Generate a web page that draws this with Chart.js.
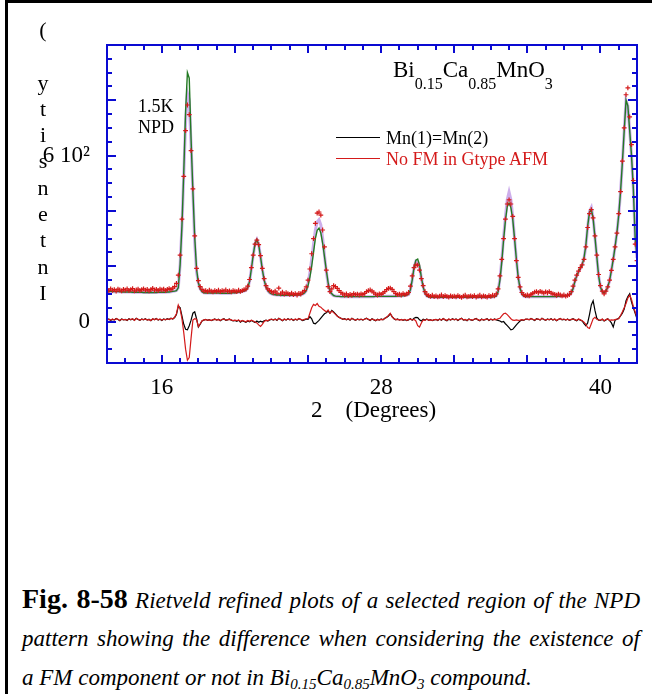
<!DOCTYPE html>
<html>
<head>
<meta charset="utf-8">
<title>Bi0.15Ca0.85MnO3 NPD Rietveld</title>
<script src="https://cdn.jsdelivr.net/npm/chart.js@4.4.1/dist/chart.umd.min.js"></script>
<style>
  html, body { margin: 0; padding: 0; background: #fff; }
  #page { position: relative; width: 652px; height: 694px; overflow: hidden; font-family: "Liberation Serif", "Times New Roman", serif; color: #000; }
  #frame { position: absolute; left: 5px; top: 0; width: 700px; height: 760px; border-top: 3px solid #000; border-left: 3px solid #000; }
  #chart { position: absolute; left: 0; top: 0; }
  .abs { position: absolute; white-space: pre; line-height: 1; }
  #ylabel { position: absolute; left: 33px; top: 17px; width: 20px; text-align: center; font-size: 22px; line-height: 26.3px; }
  #formula { left: 393px; top: 57.5px; font-size: 23px; }
  #formula span { font-size: 16px; vertical-align: -12px; }
  .note { font-size: 18px; }
  .key { position: absolute; left: 336px; width: 44px; }
  .cap { position: absolute; left: 22px; width: 618px; font-size: 23px; font-style: italic; line-height: 30px; }
  .just { text-align: justify; text-align-last: justify; }
  .cap b { font-style: normal; font-size: 28px; }
  .cap sub { font-size: 15px; vertical-align: -4px; line-height: 0; }
</style>
</head>
<body>
<div id="page">
  <div id="frame"></div>
  <canvas id="chart" width="652" height="430"></canvas>

  <div id="ylabel">(<br><br>y<br>t<br>i<br>s<br>n<br>e<br>t<br>n<br>I</div>

  <div class="abs" id="formula">Bi<span>0.15</span>Ca<span>0.85</span>MnO<span>3</span></div>
  <div class="abs note" style="left:138px; top:96.5px;">1.5K</div>
  <div class="abs note" style="left:138px; top:118px;">NPD</div>

  <div class="key" style="top:136.5px; border-top:1px solid #000;"></div>
  <div class="key" style="top:157.5px; border-top:1.5px solid #d41a1a;"></div>
  <div class="abs note" style="left:386px; top:129px;">Mn(1)=Mn(2)</div>
  <div class="abs note" style="left:386px; top:149.5px; color:#d41a1a;">No FM in Gtype AFM</div>

  <div class="abs" style="left:311px; top:397.5px; font-size:23px;">2    (Degrees)</div>

  <div class="cap just" style="top:584px;"><b>Fig. 8-58</b> Rietveld refined plots of a selected region of the NPD</div>
  <div class="cap just" style="top:624px;">pattern showing the difference when considering the existence of</div>
  <div class="cap" style="top:663px;">a FM component or not in Bi<sub>0.15</sub>Ca<sub>0.85</sub>MnO<sub>3</sub> compound.</div>
</div>

<script>
// 2theta grid of the pattern: 13.0 .. 42.0 deg, step 0.1
const THETA_START = 13.0;
const THETA_STEP = 0.1;

// observed counts (red crosses)
const obsCounts = [
  116,112,118,113,115,110,117,114,111,116, // 13
  113,118,112,115,119,111,114,117,112,115, // 14
  118,113,116,111,115,120,113,116,112,117, // 15
  114,117,112,116,119,115,121,126,138,168, // 16
  240,370,525,690,783,748,618,480,310,192, // 17
  148,126,116,110,112,108,113,110,107,112, // 18
  109,113,108,112,110,114,109,111,107,112, // 19
  110,108,113,109,112,115,117,128,152,195, // 20
  240,280,294,278,238,192,155,130,118,112, // 21
  108,104,110,103,121,100,106,99,104,101,  // 22
  98,103,97,101,96,102,99,106,112,125,     // 23
  150,190,245,300,355,392,396,385,331,270, // 24
  186,126,108,118,130,126,120,112,105,100, // 25
  96,100,94,98,95,101,97,99,96,100,        // 26
  97,102,108,112,114,110,104,99,96,100,    // 27
  98,103,108,115,120,121,116,108,101,97,   // 28
  99,96,101,97,100,105,128,165,195,205,    // 29
  204,186,155,130,108,98,94,91,95,90,      // 30
  93,89,92,96,90,94,91,88,93,90,           // 31
  92,89,94,90,87,92,95,89,91,93,           // 32
  90,94,88,92,95,89,93,91,88,94,           // 33
  91,95,93,100,118,165,225,300,370,425,    // 34
  440,425,380,300,220,160,125,105,97,94,   // 35
  96,93,98,102,106,108,104,109,106,103,    // 36
  107,104,108,103,100,98,95,99,96,93,      // 37
  96,92,95,97,108,128,150,168,182,195,     // 38
  205,225,270,340,390,405,375,310,240,170, // 39
  130,110,100,110,125,150,185,225,270,320, // 40
  390,470,580,700,820,845,740,640,510,280, // 41
  220
];

// calculated profile, no FM in G-type AFM (green)
const calcNoFM = [
  109,109,109,108,108,108,108,108,107,107,
  107,107,107,107,106,106,106,106,106,106,
  105,105,105,105,105,105,105,105,106,106,
  106,106,106,107,107,108,109,110,112,122,
  205,345,540,760,900,880,660,470,305,190,
  140,118,108,104,103,103,103,103,103,103,
  103,103,102,102,102,102,102,102,103,104,
  104,105,106,107,108,110,113,122,145,190,
  240,282,296,278,235,188,150,125,112,104,
  100,98,97,96,96,95,95,95,95,95,
  95,95,95,95,96,96,97,99,103,112,
  130,160,200,250,300,330,338,320,283,235,
  186,140,110,100,94,92,91,91,90,90,
  90,90,90,90,90,90,90,90,90,90,
  90,90,90,90,90,90,90,91,91,91,
  91,91,91,91,91,91,91,91,91,92,
  92,92,93,94,96,98,115,150,195,222,
  226,205,160,125,102,92,89,88,88,88,
  88,88,88,88,88,88,88,88,88,88,
  88,88,88,88,88,88,88,88,88,88,
  88,88,88,88,88,88,88,88,88,88,
  88,89,90,92,108,150,215,295,365,415,
  428,412,370,300,225,160,120,100,92,90,
  90,90,90,90,90,90,90,90,90,90,
  90,90,90,90,90,90,90,91,91,92,
  92,93,95,97,102,118,145,165,180,192,
  205,230,275,345,395,406,372,305,235,165,
  125,108,104,110,125,148,185,225,270,320,
  385,470,575,690,800,780,690,600,480,300,
  230
];

// calculated profile, Mn(1)=Mn(2) (light violet)
const calcMnEq = [
  109,109,109,108,108,108,108,108,107,107,
  107,107,107,107,106,106,106,106,106,106,
  105,105,105,105,105,105,105,105,106,106,
  106,106,106,107,107,108,109,110,112,122,
  205,345,530,720,825,800,640,470,285,180,
  140,118,108,104,103,103,103,103,103,103,
  103,103,102,102,102,102,102,102,103,104,
  104,105,106,107,108,110,113,122,145,190,
  240,282,296,278,235,188,150,125,112,104,
  100,98,97,96,96,95,95,95,95,95,
  95,95,95,95,96,96,97,99,103,112,
  140,175,225,280,330,360,368,350,300,240,
  180,135,108,99,94,92,91,91,90,90,
  90,90,90,90,90,90,90,90,90,90,
  90,90,90,90,90,90,90,91,91,91,
  91,91,91,91,91,91,91,91,91,92,
  92,92,93,94,96,98,115,150,195,218,
  215,196,158,125,102,92,89,88,88,88,
  88,88,88,88,88,88,88,88,88,88,
  88,88,88,88,88,88,88,88,88,88,
  88,88,88,88,88,88,88,88,88,88,
  88,89,90,93,110,155,222,305,378,440,
  468,440,378,302,225,160,120,100,92,90,
  90,90,90,90,90,90,90,90,90,90,
  90,90,90,90,90,90,90,91,91,92,
  92,93,95,97,102,118,145,165,180,192,
  205,228,272,342,398,412,375,305,235,165,
  125,108,104,110,125,148,185,225,270,320,
  385,470,575,690,800,780,690,600,480,300,
  230
];

// difference curve, Mn(1)=Mn(2) (black)
const diffMnEq = [
  5,9,4,8,6,11,7,3,9,6,
  8,4,10,6,9,5,12,7,4,9,
  6,10,5,8,3,9,7,11,5,8,
  4,9,6,10,7,12,9,14,25,55,
  50,20,-10,-28,-30,-15,5,30,35,10,
  -20,-10,2,5,8,4,7,3,6,9,
  5,8,3,7,10,4,6,9,5,2,
  4,1,5,-2,3,0,-3,2,-1,4,
  0,-4,2,-3,1,-2,3,5,2,6,
  8,5,9,4,12,7,3,8,5,10,
  6,9,4,8,5,11,7,3,6,9,
  8,18,10,-6,-8,-2,4,12,20,28,
  32,38,30,40,35,28,20,15,12,8,
  10,6,9,5,12,7,4,9,6,8,
  5,9,12,7,4,10,6,3,8,5,
  9,6,12,15,20,28,18,10,6,9,
  5,8,4,7,3,6,10,5,12,15,
  14,6,2,8,5,9,4,7,3,6,
  8,4,9,5,11,6,3,8,5,10,
  6,9,4,8,12,5,7,3,9,6,
  4,8,11,6,3,9,5,7,10,4,
  8,5,9,6,4,2,-2,0,-8,-15,
  -22,-30,-28,-20,-12,-5,2,6,4,8,
  9,6,11,7,4,10,8,5,12,7,
  4,9,6,10,5,8,3,7,11,6,
  8,5,9,4,7,10,6,3,8,5,
  2,-8,-15,-5,25,60,75,40,12,5,
  4,8,2,6,10,3,-5,-20,5,8,
  12,20,30,45,75,90,100,70,50,30,
  10
];

// difference curve, no FM in G-type AFM (red)
const diffNoFM = [
  6,8,5,9,5,10,8,4,8,7,
  7,5,9,7,10,4,11,8,5,8,
  7,9,6,7,4,10,6,10,6,9,
  5,8,7,9,8,11,10,16,28,60,
  45,10,-40,-100,-140,-130,-60,5,10,8,
  -18,-8,3,6,7,5,6,4,7,8,
  6,7,4,8,9,5,7,8,6,3,
  5,3,6,0,4,2,-1,4,1,5,
  2,-2,-5,-12,-18,-10,0,4,3,7,
  9,6,8,5,11,8,4,9,6,9,
  7,8,5,9,6,10,8,5,8,10,
  10,30,50,62,58,65,55,52,45,40,
  35,42,30,38,32,26,20,15,12,9,
  9,7,10,6,11,8,5,8,7,9,
  6,8,11,8,5,9,7,4,7,6,
  8,7,11,16,22,30,17,11,7,8,
  6,7,5,8,4,7,9,6,8,2,
  -15,-20,-5,6,4,8,5,6,4,7,
  7,5,8,6,10,7,4,9,6,9,
  7,8,5,9,11,6,8,4,8,7,
  5,9,10,7,4,8,6,8,9,5,
  9,6,8,7,10,12,20,28,30,25,
  18,10,5,4,6,4,5,7,5,9,
  8,7,10,8,5,9,9,6,11,8,
  5,8,7,9,6,9,4,8,10,7,
  9,6,8,5,8,9,7,4,9,6,
  3,-2,-10,-22,-25,-8,10,15,8,6,
  5,9,3,7,9,4,6,5,7,9,
  10,22,35,50,65,85,95,80,55,35,
  15
];

const xTickLabels = [16, 28, 40];
const yTickLabels = [0, 600];

const AXIS_BLUE = '#0a0ad2';
const RED = '#d41a1a';
const SERIF = '"Liberation Serif", "Times New Roman", serif';

const twoTheta = obsCounts.map((_, i) => +(THETA_START + i * THETA_STEP).toFixed(1));
const pts = arr => arr.map((v, i) => ({ x: twoTheta[i], y: v }));

// blue box with inward ticks on all four sides
const frameTicks = {
  id: 'frameTicks',
  afterDatasetsDraw(chart) {
    const { ctx, chartArea: a, scales: { x, y } } = chart;
    ctx.save();
    ctx.strokeStyle = AXIS_BLUE;
    ctx.lineWidth = 2;
    ctx.beginPath();
    for (let v = 14; v <= 41; v++) {
      const px = Math.round(x.getPixelForValue(v));
      const len = v % 4 === 0 ? 8 : 5;
      ctx.moveTo(px, a.bottom); ctx.lineTo(px, a.bottom - len);
      ctx.moveTo(px, a.top); ctx.lineTo(px, a.top + len);
    }
    for (let v = -100; v <= 950; v += 50) {
      const py = Math.round(y.getPixelForValue(v));
      const len = v % 200 === 0 ? 9 : 5;
      ctx.moveTo(a.left, py); ctx.lineTo(a.left + len, py);
      ctx.moveTo(a.right, py); ctx.lineTo(a.right - len, py);
    }
    ctx.stroke();
    ctx.strokeRect(a.left, a.top, a.right - a.left, a.bottom - a.top);
    ctx.restore();
  }
};

new Chart(document.getElementById('chart'), {
  type: 'scatter',
  data: {
    datasets: [
      {
        label: 'Observed',
        data: pts(obsCounts),
        showLine: false,
        pointStyle: 'cross',
        pointRadius: 2.4,
        borderWidth: 1.2,
        borderColor: RED
      },
      {
        label: 'No FM in Gtype AFM (calc)',
        data: pts(calcNoFM),
        showLine: true,
        pointRadius: 0,
        borderWidth: 1.4,
        borderColor: '#237a23'
      },
      {
        label: 'Mn(1)=Mn(2) (calc)',
        data: pts(calcMnEq),
        showLine: true,
        pointRadius: 0,
        borderWidth: 3,
        borderColor: 'rgba(196,160,232,0.85)'
      },
      {
        label: 'No FM in Gtype AFM',
        data: pts(diffNoFM),
        showLine: true,
        pointRadius: 0,
        borderWidth: 1.2,
        borderColor: RED
      },
      {
        label: 'Mn(1)=Mn(2)',
        data: pts(diffMnEq),
        showLine: true,
        pointRadius: 0,
        borderWidth: 1.2,
        borderColor: '#000'
      }
    ]
  },
  options: {
    responsive: false,
    animation: false,
    events: [],
    layout: { padding: { left: 0, top: 45, right: 15, bottom: 0 } },
    plugins: { legend: { display: false }, tooltip: { enabled: false } },
    scales: {
      x: {
        type: 'linear',
        min: 13,
        max: 42,
        grid: { display: false, drawTicks: false },
        border: { display: false },
        ticks: { color: '#000', font: { family: SERIF, size: 23 }, padding: 11, maxRotation: 0, autoSkip: false },
        afterBuildTicks: s => { s.ticks = xTickLabels.map(v => ({ value: v })); },
        afterFit: s => { s.height = 67; }
      },
      y: {
        min: -150,
        max: 1000,
        grid: { display: false, drawTicks: false },
        border: { display: false },
        ticks: {
          color: '#000',
          font: { family: SERIF, size: 23 },
          padding: 17,
          callback: v => v === 0 ? '0' : (v / 100) + ' 10\u00B2'
        },
        afterBuildTicks: s => { s.ticks = yTickLabels.map(v => ({ value: v })); },
        afterFit: s => { s.width = 107; }
      }
    }
  },
  plugins: [frameTicks]
});
</script>
</body>
</html>
